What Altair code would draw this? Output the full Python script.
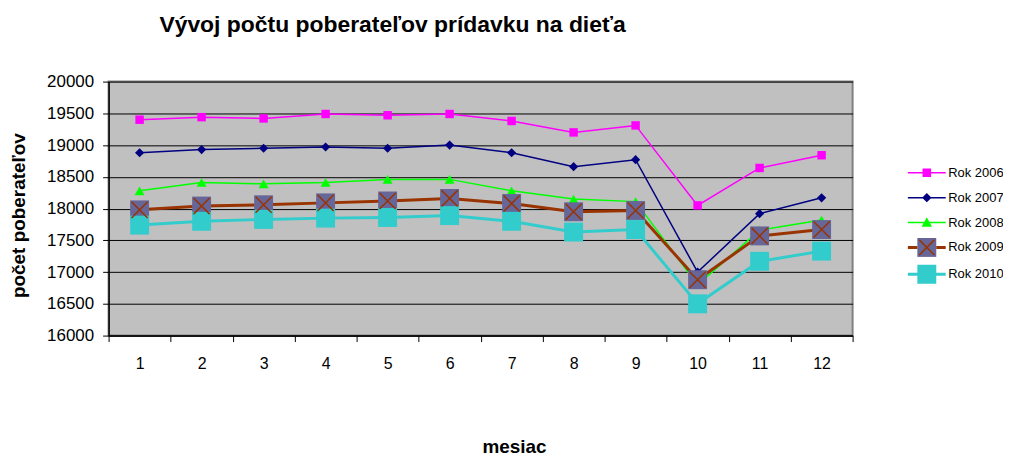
import altair as alt
import pandas as pd

FONT = "Liberation Sans"

months = list(range(1, 13))
series_names = ["Rok 2006", "Rok 2007", "Rok 2008", "Rok 2009", "Rok 2010"]
rok2006 = [19400, 19440, 19420, 19490, 19470, 19490, 19380, 19200, 19310, 18050, 18640, 18840]
rok2007 = [18880, 18930, 18950, 18970, 18950, 19000, 18880, 18660, 18770, 17000, 17920, 18170]
rok2008 = [18280, 18410, 18390, 18410, 18460, 18460, 18280, 18150, 18110, 16800, 17660, 17820]
rok2009 = [17980, 18040, 18060, 18090, 18120, 18160, 18080, 17950, 17970, 16880, 17570, 17670]
rok2010 = [17740, 17800, 17830, 17850, 17860, 17890, 17800, 17630, 17670, 16500, 17170, 17330]
y_ticks = [16000, 16500, 17000, 17500, 18000, 18500, 19000, 19500, 20000]

all_values = [rok2006, rok2007, rok2008, rok2009, rok2010]
df = pd.DataFrame(
    [{"mesiac": m, "rok": s, "pocet": v}
     for s, vals in zip(series_names, all_values)
     for m, v in zip(months, vals)]
)

# styles
line_colors = ["#FF00FF", "#000080", "#00FF00", "#993300", "#33CCCC"]
line_widths = [1.5, 1.5, 1.5, 3, 3]
marker_shapes = ["square", "diamond", "triangle-up", "square", "square"]
marker_sizes = [72, 85, 100, 361, 361]
marker_fills = ["#FF00FF", "#000080", "#00FF00", "#666699", "#33CCCC"]
X_PATH = "M-0.85,-0.85L0.85,0.85M0.85,-0.85L-0.85,0.85"

# legend symbols (line segment + marker) as filled paths
thin = "M-2,-0.08H2V0.08H-2Z"
thick = "M-2,-0.16H2V0.16H-2Z"
legend_paths = [
    thin + "M-0.45,-0.45H0.45V0.45H-0.45Z",
    thin + "M0,-0.5L0.5,0L0,0.5L-0.5,0Z",
    thin + "M0,-0.55L0.55,0.45L-0.55,0.45Z",
    "M-1,-1H1V1H-1Z",
    thick + "M-1,-1H1V1H-1Z",
]
legend_fills = ["#FF00FF", "#000080", "#00FF00", "#666699", "#33CCCC"]
legend2_path = ("M-2,-0.16H-1V0.16H-2Z M1,-0.16H2V0.16H1Z "
                "M-0.743,-0.857L0.857,0.743L0.743,0.857L-0.857,-0.743Z "
                "M0.857,-0.743L-0.743,0.857L-0.857,0.743L0.743,-0.857Z")

x_enc = alt.X(
    "mesiac:O",
    bandPosition=0.5,
    scale=alt.Scale(type="band", paddingInner=0, paddingOuter=0),
    axis=alt.Axis(
        title="mesiac", labelAngle=0, labelFont=FONT, labelFontSize=16,
        labelColor="black", labelPadding=14, tickBand="extent", tickSize=6,
        tickColor="black", domainColor="black", domainWidth=1.5, grid=False,
        titleFont=FONT, titleFontSize=19, titleFontWeight="bold", titleColor="black",
        titleX=407, titleY=117, titleAlign="center", titleBaseline="alphabetic",
    ),
)
y_enc = alt.Y(
    "pocet:Q",
    scale=alt.Scale(domain=[16000, 20000], nice=False, zero=False),
    axis=alt.Axis(
        values=y_ticks, format="d", labelFont=FONT, labelFontSize=17, labelColor="black",
        labelPadding=9, tickSize=6, tickColor="black", domainColor="black",
        domainWidth=1.5, grid=True, gridColor="#000000", gridWidth=1,
        title="počet poberateľov", titleFont=FONT, titleFontSize=19,
        titleFontWeight="bold", titleColor="black", titleX=-90, titleY=134,
        titleAlign="center", titleBaseline="middle", titleAngle=270,
    ),
)

base = alt.Chart(df)
layers = []
for name, col, w in zip(series_names, line_colors, line_widths):
    layers.append(
        base.transform_filter(alt.datum.rok == name)
        .mark_line(color=col, strokeWidth=w)
        .encode(x=x_enc, y=y_enc)
    )
for name, shp, sz, fc in zip(series_names, marker_shapes, marker_sizes, marker_fills):
    layers.append(
        base.transform_filter(alt.datum.rok == name)
        .mark_point(filled=True, shape=shp, size=sz, color=fc, opacity=1, strokeWidth=0)
        .encode(x=x_enc, y=y_enc)
    )
layers.append(
    base.transform_filter(alt.datum.rok == "Rok 2009")
    .mark_point(filled=False, shape=X_PATH, size=361, color="#993300", opacity=1, strokeWidth=1.5)
    .encode(x=x_enc, y=y_enc)
)

LX, LY = 812, 82
leg_common = dict(
    title=None, orient="none", symbolSize=361, symbolStrokeWidth=0,
    symbolOpacity=1, labelOffset=12, labelFont=FONT, labelFontSize=13,
    labelColor="black", rowPadding=8, labelLimit=200, padding=0, offset=0,
)
leg1 = alt.Legend(legendX=LX, legendY=LY, **leg_common)
leg2 = alt.Legend(legendX=LX, legendY=LY + 75, labelOpacity=0, **leg_common)

layers.append(
    base.transform_filter("false")
    .mark_point(filled=True, opacity=1, strokeWidth=0)
    .encode(
        x=x_enc, y=y_enc,
        fill=alt.Fill("rok:N", scale=alt.Scale(domain=series_names, range=legend_fills), legend=leg1),
        shape=alt.Shape("rok:N", scale=alt.Scale(domain=series_names, range=legend_paths), legend=leg1),
    )
)
layers.append(
    base.transform_filter("false")
    .mark_point(filled=True, opacity=1, strokeWidth=0)
    .encode(
        x=x_enc, y=y_enc,
        fill=alt.Fill("rok:N", scale=alt.Scale(domain=["Rok 2009"], range=["#993300"]), legend=leg2),
        shape=alt.Shape("rok:N", scale=alt.Scale(domain=["Rok 2009"], range=[legend2_path]), legend=leg2),
    )
)

chart = (
    alt.layer(*layers)
    .resolve_scale(fill="independent", shape="independent")
    .properties(
        width=747, height=255,
        autosize=alt.AutoSizeParams(type="none"),
        padding={"left": 101, "top": 73, "right": 151, "bottom": 120},
        title=alt.TitleParams(
            text="Vývoj počtu poberateľov prídavku na dieťa", anchor="start",
            frame="group", dx=51, offset=18, fontSize=23, font=FONT,
            fontWeight="bold", color="black", baseline="alphabetic",
        ),
    )
    .configure_view(fill="#C0C0C0", stroke="#808080", strokeWidth=2)
)

chart.save("out.html", embed_options={"renderer": "svg", "actions": False})
